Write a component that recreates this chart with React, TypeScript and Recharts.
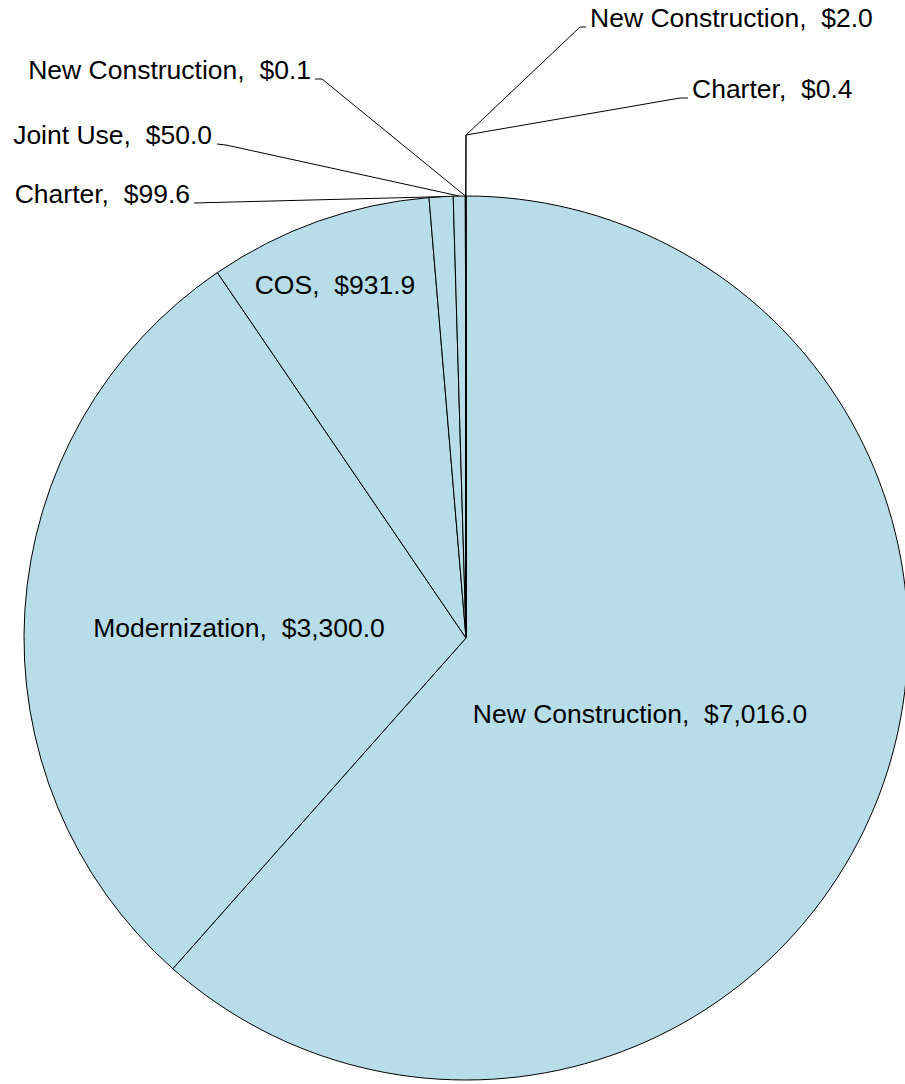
import { PieChart, Pie, Cell } from 'recharts';

const categories = [
  'New Construction',
  'Modernization',
  'COS',
  'Charter',
  'Joint Use',
  'New Construction',
  'New Construction',
  'Charter',
];
const amounts = [7016.0, 3300.0, 931.9, 99.6, 50.0, 0.1, 2.0, 0.4];

const data = categories.map((name, i) => ({ name, value: amounts[i] }));

// label placement relative to the pie centre (Excel "best fit" style)
type Pt = [number, number];
const labelLayout: { x: number; y: number; anchor: 'start' | 'middle' | 'end'; leader?: Pt[] }[] = [
  { x: 174, y: 85, anchor: 'middle' },
  { x: -227, y: -1, anchor: 'middle' },
  { x: -131, y: -344, anchor: 'middle' },
  { x: -276, y: -435, anchor: 'end', leader: [[-272, -435]] },
  { x: -254, y: -494, anchor: 'end', leader: [[-249, -494], [-240, -493]] },
  { x: -155, y: -559, anchor: 'end', leader: [[-151, -559], [-144, -559]] },
  { x: 124, y: -611, anchor: 'start', leader: [[120, -611], [114, -611], [0, -503]] },
  { x: 226, y: -540, anchor: 'start', leader: [[222, -540], [214, -540], [0, -503]] },
];

const RAD = Math.PI / 180;
const fmt = (v: number) =>
  '$' + v.toLocaleString('en-US', { minimumFractionDigits: 1, maximumFractionDigits: 1 });

const renderLabel = (props: any) => {
  const { cx, cy, midAngle, outerRadius, index, name, value } = props;
  const lay = labelLayout[index];
  if (!lay) return null;
  let path: string | null = null;
  if (lay.leader) {
    const ex = cx + outerRadius * Math.cos(-midAngle * RAD);
    const ey = cy + outerRadius * Math.sin(-midAngle * RAD);
    const pts = lay.leader.map(([dx, dy]) => `${cx + dx},${cy + dy}`);
    path = 'M' + pts.join(' L') + ` L${ex},${ey}`;
  }
  return (
    <g key={`lbl-${index}`}>
      {path && <path d={path} fill="none" stroke="#000" strokeWidth={1} />}
      <text
        x={cx + lay.x}
        y={cy + lay.y}
        textAnchor={lay.anchor}
        fill="#000"
        fontSize={26.5}
        fontFamily="'Liberation Sans', Arial, sans-serif"
        style={{ whiteSpace: 'pre' }}
      >
        {`${name},  ${fmt(value)}`}
      </text>
    </g>
  );
};

export default function App() {
  return (
    <div style={{ position: 'absolute', left: 0, top: 0, width: 905, height: 1084, background: '#fff' }}>
      <PieChart width={905} height={1084} margin={{ top: 0, right: 0, bottom: 0, left: 0 }}>
        <Pie
          data={data}
          dataKey="value"
          nameKey="name"
          cx={466}
          cy={638}
          outerRadius={442}
          startAngle={90}
          endAngle={-270}
          stroke="#000"
          strokeWidth={1}
          label={renderLabel}
          labelLine={false}
          isAnimationActive={false}
        >
          {data.map((_, i) => (
            <Cell key={i} fill="#B7DDE8" />
          ))}
        </Pie>
      </PieChart>
    </div>
  );
}
